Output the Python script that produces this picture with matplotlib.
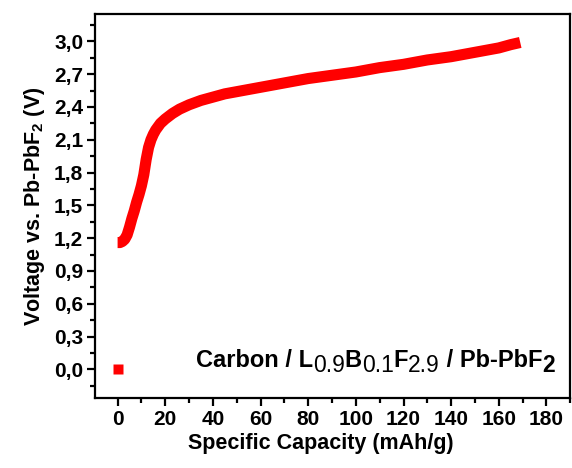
import matplotlib
matplotlib.use('Agg')
import matplotlib.pyplot as plt
from matplotlib.ticker import MultipleLocator

plt.rcParams['font.family'] = ['Liberation Sans', 'DejaVu Sans']
plt.rcParams['font.weight'] = 'bold'
plt.rcParams['mathtext.fontset'] = 'custom'
plt.rcParams['mathtext.rm'] = 'Liberation Sans'
plt.rcParams['mathtext.bf'] = 'Liberation Sans:bold'

# charge curve
capacity = [0, 1, 2, 3, 4, 5, 6, 7, 8, 9, 10, 11, 12, 13, 14, 15, 16, 18, 20, 23,
            26, 30, 35, 40, 45, 50, 60, 70, 80, 90, 100, 110, 120, 130, 140, 150,
            160, 165, 169]
voltage = [1.16, 1.16, 1.17, 1.19, 1.23, 1.30, 1.38, 1.45, 1.53, 1.60, 1.68, 1.78,
           1.92, 2.03, 2.10, 2.15, 2.19, 2.25, 2.29, 2.34, 2.38, 2.42, 2.46, 2.49,
           2.52, 2.54, 2.58, 2.62, 2.66, 2.69, 2.72, 2.76, 2.79, 2.83, 2.86, 2.90,
           2.94, 2.97, 2.99]
# lone point at the start
point_c = [0]
point_v = [0.0]

yticks = [0.0, 0.3, 0.6, 0.9, 1.2, 1.5, 1.8, 2.1, 2.4, 2.7, 3.0]
ytick_labels = ['0,0', '0,3', '0,6', '0,9', '1,2', '1,5', '1,8', '2,1', '2,4', '2,7', '3,0']
xticks = [0, 20, 40, 60, 80, 100, 120, 140, 160, 180]

# label pieces: (text, is subscript)
label_parts = [('Carbon / L', False), ('0.9', True), ('B', False), ('0.1', True),
               ('F', False), ('2.9', True), (' / Pb-PbF', False), ('2', True)]

fig = plt.figure(figsize=(5.72, 4.68), dpi=100)
ax = fig.add_axes([0.166, 0.150, 0.831, 0.820])

ax.plot(capacity, voltage, color='#ff0000', lw=8, solid_capstyle='butt')
ax.plot(point_c, point_v, 's', color='#ff0000', ms=6.5, mec='none')

ax.set_xlim(-9.5, 190)
ax.set_ylim(-0.26, 3.25)
ax.set_xticks(xticks)
ax.set_yticks(yticks)
ax.set_yticklabels(ytick_labels)
ax.xaxis.set_minor_locator(MultipleLocator(10))
ax.yaxis.set_minor_locator(MultipleLocator(0.15))

for s in ax.spines.values():
    s.set_linewidth(1.6)
ax.tick_params(which='major', direction='out', length=5.5, width=1.6, labelsize=15, pad=3)
ax.tick_params(which='minor', direction='out', length=3.5, width=1.6)
ax.tick_params(top=False, right=False, which='both')

ax.set_xlabel('Specific Capacity (mAh/g)', fontsize=15.5, fontweight='bold')
ax.xaxis.set_label_coords(0.475, -0.093)
ax.set_ylabel(r'Voltage vs. Pb-PbF$_{\mathregular{2}}$ (V)', fontsize=15.5, fontweight='bold', labelpad=5)

# annotation with full-size, lowered subscripts
prev = ax.text(0.212, 0.068, label_parts[0][0], transform=ax.transAxes,
               ha='left', va='bottom', fontsize=17, fontweight='bold')
prev_sub = False
for txt, sub in label_parts[1:]:
    dy = 0
    if sub and not prev_sub:
        dy = -3.8
    elif prev_sub and not sub:
        dy = 3.8
    w = 'bold' if (not sub or txt == '2') else 'normal'
    prev = ax.annotate(txt, xy=(1, 0), xycoords=prev, xytext=(0, dy),
                       textcoords='offset points', ha='left', va='bottom',
                       fontsize=17 if not sub else 16.5, fontweight=w)
    prev_sub = sub

fig.savefig('out.png', dpi=100)
